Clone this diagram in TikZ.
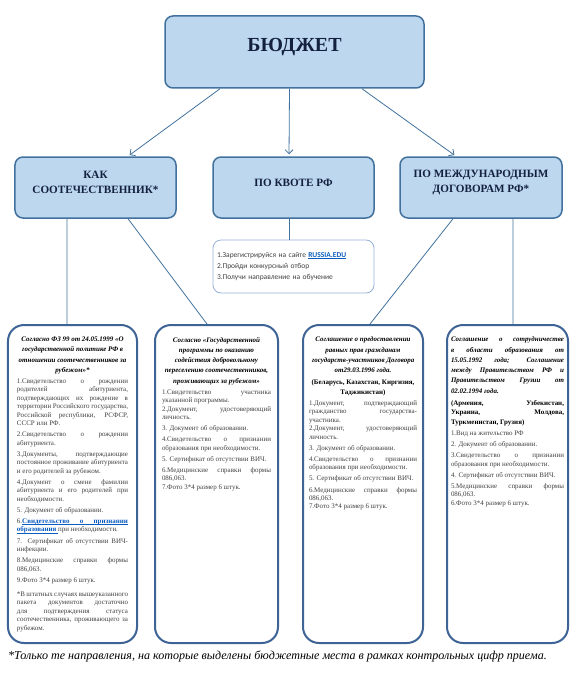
\documentclass[tikz,border=0pt]{standalone}
\usepackage{fontspec}
\setmainfont{Liberation Serif}
\newfontfamily\stepfont{Carlito}
\usetikzlibrary{arrows.meta}
\definecolor{boxblue}{HTML}{BDD7EE}
\definecolor{edgeblue}{HTML}{41719C}
\definecolor{docblue}{HTML}{3E6496}
\definecolor{stepblue}{HTML}{95B0D8}
\definecolor{linkblue}{HTML}{0B5CC0}
\definecolor{headnavy}{HTML}{13213F}
\definecolor{itemgray}{HTML}{404040}
\newcommand{\liftbox}[3]{\begin{minipage}[c][#1][c]{#2}\centering #3\par\vspace{10bp}\end{minipage}}
\newcommand{\doccol}[3]{\begin{minipage}[t][#1][t]{#2}\tolerance=9999\emergencystretch=20bp\hyphenpenalty=10000
  \parskip=2.6bp\vspace*{12bp}#3\end{minipage}}
\newcommand{\hd}[1]{{\centering\color{black}\bfseries\itshape\fontsize{7}{10.3}\selectfont #1\par}}
\newcommand{\hdj}[1]{{\color{black}\bfseries\itshape\fontsize{7}{10.3}\selectfont #1\par}}
\newcommand{\cnt}[1]{{\color{black}\bfseries\fontsize{7}{9.6}\selectfont #1\par}}
\newcommand{\itm}{\color{itemgray}\fontsize{7}{8.5}\selectfont}
\newcommand{\ulw}[1]{\leavevmode\setbox0\hbox{#1}\rlap{\rule[-1.3bp]{\wd0}{0.45bp}}\box0}
\newcommand{\ulsp}{\leaders\hrule height -0.85bp depth 1.3bp\hskip 0.25em plus 0.6em minus 0.08em\relax}
\begin{document}
\begin{tikzpicture}[x=1bp,y=-1bp,
  lvl/.style={draw=edgeblue,fill=boxblue,line width=1.5bp,rounded corners=8bp,inner sep=0pt,text=headnavy},
  docbox/.style={draw=docblue,fill=white,line width=2bp,rounded corners=16bp,inner ysep=0pt,anchor=north},
  arr/.style={draw=edgeblue,line width=0.8bp,-{Straight Barb[length=4bp,width=8bp]},shorten >=2bp},
  conn/.style={draw=edgeblue,line width=0.8bp}]
\useasboundingbox (0,0) rectangle (570,677);
\node[lvl,font=\bfseries\fontsize{20}{24}\selectfont] (bud) at (294.5,52) {\liftbox{72bp}{259bp}{БЮДЖЕТ}};
\node[lvl,font=\bfseries\fontsize{11.2}{15}\selectfont] (k1) at (95.5,187.5) {\liftbox{61bp}{161bp}{КАК\\СООТЕЧЕСТВЕННИК*}};
\node[lvl,font=\bfseries\fontsize{11.2}{15}\selectfont] (k2) at (293.5,187.5) {\liftbox{61bp}{161bp}{ПО КВОТЕ РФ}};
\node[lvl,font=\bfseries\fontsize{11.2}{15}\selectfont] (k3) at (481,187.5) {\liftbox{61bp}{162bp}{ПО МЕЖДУНАРОДНЫМ\\ДОГОВОРАМ РФ*}};
\node[draw=stepblue,line width=0.8bp,rounded corners=8bp,fill=white,text width=153bp,minimum height=53bp,
  inner xsep=4bp,align=left,text=itemgray,font=\stepfont\fontsize{7.5}{11.3}\selectfont] (q) at (293.5,266.5)
  {1.Зарегистрируйся на сайте \textcolor{linkblue}{\bfseries\ulw{RUSSIA.EDU}}\\2.Пройди конкурсный отбор\\3.Получи направление на обучение};
\node[docbox,inner xsep=9bp] (d1) at (72.5,324) {\doccol{318bp}{111bp}{%
  \hd{Согласно ФЗ 99 от 24.05.1999 «О государственной политике РФ в отношении соотечественников за рубежом»*}
  \itm
  1.Свидетельство о рождении родителей абитуриента, подтверждающих их рождение в территории Российского государства, Российской республики, РСФСР, СССР или РФ.\par
  2.Свидетельство о рождении абитуриента.\par
  3.Документы, подтверждающие постоянное проживание абитуриента и его родителей за рубежом.\par
  4.Документ о смене фамилии абитуриента и его родителей при необходимости.\par
  5. Документ об образовании.\par
  6.{\color{linkblue}\bfseries\ulw{Свидетельство}\ulsp\ulw{о}\ulsp\ulw{признании}\ulsp\ulw{образования}\ulsp}при необходимости.\par
  7. Сертификат об отсутствии ВИЧ-инфекции.\par
  8.Медицинские справки формы 086,063.\par
  9.Фото 3*4 размер 6 штук.\par
  \vspace{3bp}
  *В штатных случаях вышеуказанного пакета документов достаточно для подтверждения статуса соотечественника, проживающего за рубежом.\par}};
\node[docbox,inner xsep=7bp] (d2) at (216.5,324) {\doccol{318bp}{109bp}{%
  \hd{Согласно «Государственной программы по оказанию содействия добровольному переселению соотечественников, проживающих за рубежом»}
  \itm
  1.Свидетельство участника указанной программы.\\
  2.Документ, удостоверяющий личность.\par
  3. Документ об образовании.\par
  4.Свидетельство о признании образования при необходимости.\par
  5. Сертификат об отсутствии ВИЧ.\par
  6.Медицинские справки формы 086,063.\\
  7.Фото 3*4 размер 6 штук.\par}};
\node[docbox,inner xsep=6bp] (d3) at (363,324) {\doccol{318bp}{108bp}{%
  \hd{Соглашение о предоставлении равных прав гражданам государств-участников Договора от29.03.1996 года.}
  {\centering\cnt{(Беларусь, Казахстан, Киргизия, Таджикистан)}}
  \itm
  1.Документ, подтверждающий гражданство государства-\linebreak участника.\\
  2.Документ, удостоверяющий личность.\par
  3. Документ об образовании.\par
  4.Свидетельство о признании образования при необходимости.\par
  5. Сертификат об отсутствии ВИЧ.\par
  6.Медицинские справки формы 086,063.\\
  7.Фото 3*4 размер 6 штук.\par}};
\node[docbox,inner xsep=4bp] (d4) at (507.5,324) {\doccol{318bp}{113bp}{%
  \hdj{Соглашение о сотрудничестве в области образования от 15.05.1992 года; Соглашение между Правительством РФ и\linebreak Правительством Грузии от 02.02.1994 года.}
  \cnt{(Армения, Узбекистан,\linebreak Украина, Молдова,\linebreak Туркменистан, Грузия)}
  \itm
  1.Вид на жительство РФ\par
  2. Документ об образовании.\par
  3.Свидетельство о признании образования при необходимости.\par
  4. Сертификат об отсутствии ВИЧ.\par
  5.Медицинские справки формы 086,063.\\
  6.Фото 3*4 размер 6 штук.\par}};
\node[anchor=base west,inner sep=0pt,font=\itshape\fontsize{12.1}{14}\selectfont] (fn) at (8,659)
  {*Только те направления, на которые выделены бюджетные места в рамках контрольных цифр приема.};
\path ([xshift=-74.5bp]bud.south) edge[arr] ([xshift=32.5bp]k1.north);
\path ([xshift=-5bp]bud.south) edge[arr] ([xshift=-4.5bp]k2.north);
\path ([xshift=67.5bp]bud.south) edge[arr] ([xshift=-25bp]k3.north);
\path ([xshift=-28.5bp]k1.south) edge[conn] ([xshift=-5.5bp]d1.north);
\path ([xshift=32.5bp]k1.south) edge[conn] ([xshift=-9.5bp]d2.north);
\path ([xshift=-4.5bp]k2.south) edge[conn] ([xshift=-4.5bp]q.north);
\path ([xshift=-28bp]k3.south) edge[conn] ([xshift=7bp]d3.north);
\path ([xshift=32bp]k3.south) edge[conn] ([xshift=5.5bp]d4.north);
\end{tikzpicture}
\end{document}
